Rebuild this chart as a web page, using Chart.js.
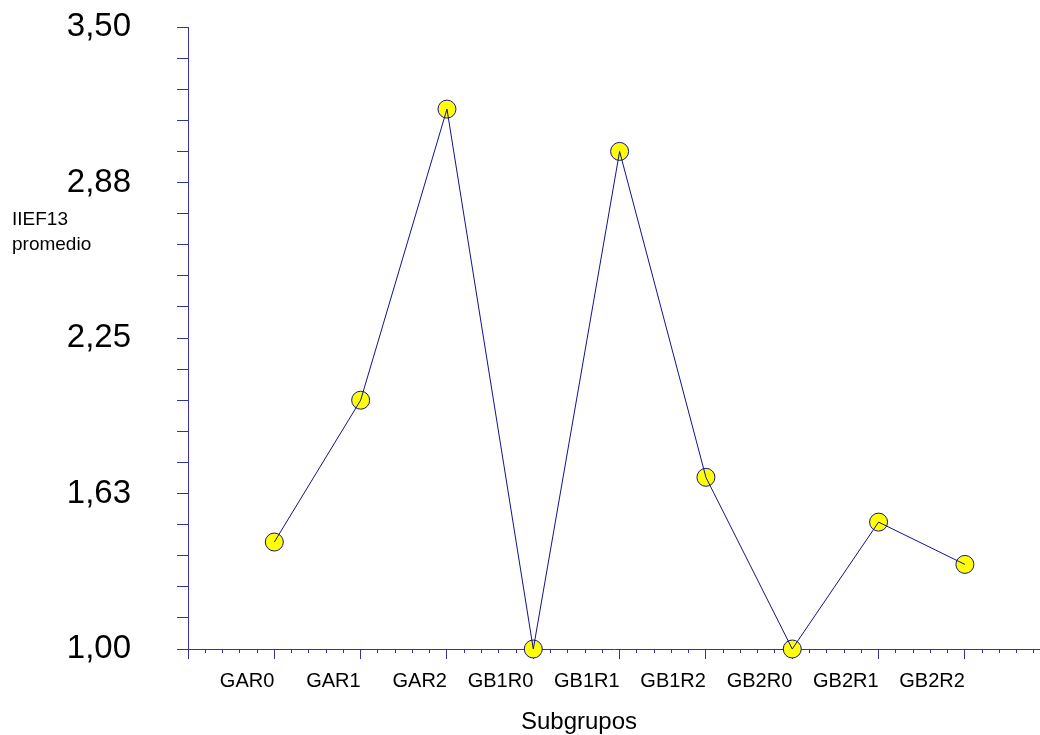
<!DOCTYPE html>
<html>
<head>
<meta charset="utf-8">
<script src="https://cdn.jsdelivr.net/npm/chart.js@4/dist/chart.umd.min.js"></script>
<style>
  html, body { margin: 0; padding: 0; background: #ffffff; }
  canvas { display: block; }
</style>
</head>
<body>
<canvas id="chart" width="1040" height="735"></canvas>
<script>
// Subgroups along the horizontal axis and their mean IIEF13 score
const categories = ['GAR0', 'GAR1', 'GAR2', 'GB1R0', 'GB1R1', 'GB1R2', 'GB2R0', 'GB2R1', 'GB2R2'];
const meanIIEF13 = [1.43, 2.00, 3.17, 1.00, 3.00, 1.69, 1.00, 1.51, 1.34];

// Value axis: labelled ticks and their printed text (decimal comma)
const yLabeledTicks = [1.00, 1.625, 2.25, 2.875, 3.50];
const yTickLabels = ['1,00', '1,63', '2,25', '2,88', '3,50'];
const yMinorStep = 0.125;
const xMinorStep = 0.2;
const xEnd = 9.87;

const yTitleLines = ['IIEF13', 'promedio'];
const xTitle = 'Subgrupos';

const AXIS = '#3434a0';
const LINE = '#12128c';
const FONT = "'Liberation Sans', Arial, sans-serif";

const points = categories.map((c, i) => ({ x: i + 1, y: meanIIEF13[i] }));

function isInt(v) { return Math.abs(v - Math.round(v)) < 1e-6; }

const titles = {
  id: 'axisTitles',
  afterDraw(chart) {
    const ctx = chart.ctx;
    ctx.save();
    ctx.fillStyle = '#000000';
    ctx.textBaseline = 'alphabetic';
    ctx.textAlign = 'left';
    ctx.font = '19px ' + FONT;
    yTitleLines.forEach((t, i) => ctx.fillText(t, 12, 225 + i * 25));
    ctx.font = '24px ' + FONT;
    ctx.textAlign = 'center';
    ctx.fillText(xTitle, 579, 729);
    ctx.restore();
  }
};

new Chart(document.getElementById('chart'), {
  type: 'scatter',
  data: {
    datasets: [
      {
        // connecting line, drawn above the markers
        data: points,
        showLine: true,
        borderColor: LINE,
        borderWidth: 1,
        pointRadius: 0,
        pointHoverRadius: 0,
        clip: false
      },
      {
        data: points,
        showLine: false,
        pointRadius: 9,
        pointHoverRadius: 9,
        pointBackgroundColor: '#ffff00',
        pointBorderColor: LINE,
        pointBorderWidth: 1,
        clip: false
      }
    ]
  },
  options: {
    responsive: false,
    devicePixelRatio: 1,
    animation: false,
    events: [],
    layout: { autoPadding: false, padding: { left: 0, right: 0, top: 27, bottom: 0 } },
    plugins: { legend: { display: false }, tooltip: { enabled: false } },
    scales: {
      x: {
        type: 'linear',
        min: 0,
        max: xEnd,
        afterBuildTicks(scale) {
          const ticks = [];
          for (let v = 0; v <= xEnd + 1e-9; v += xMinorStep) ticks.push({ value: Math.round(v * 1000) / 1000 });
          scale.ticks = ticks;
        },
        afterFit(scale) {
          scale.height = 86;
          scale.paddingLeft = 0;
          scale.paddingRight = 0;
        },
        border: { display: true, color: AXIS, width: 1 },
        grid: {
          drawOnChartArea: false,
          drawTicks: true,
          tickLength: 10,
          tickColor: AXIS,
          tickWidth: 1,
          tickBorderDash: (ctx) => (ctx.tick && isInt(ctx.tick.value)) ? [] : [3, 30]
        },
        ticks: {
          autoSkip: false,
          maxRotation: 0,
          align: 'end',
          padding: 10,
          color: '#000000',
          font: { family: FONT, size: 20 },
          callback: (v) => {
            if (!isInt(v)) return '';
            const i = Math.round(v) - 1;
            return (i >= 0 && i < categories.length) ? categories[i] : '';
          }
        }
      },
      y: {
        type: 'linear',
        min: 1.0,
        max: 3.5,
        afterBuildTicks(scale) {
          const ticks = [];
          for (let v = 1.0; v <= 3.5 + 1e-9; v += yMinorStep) ticks.push({ value: Math.round(v * 1000) / 1000 });
          scale.ticks = ticks;
        },
        afterFit(scale) {
          scale.width = 188;
          scale.paddingTop = 0;
          scale.paddingBottom = 0;
        },
        border: { display: true, color: AXIS, width: 1 },
        grid: {
          drawOnChartArea: false,
          drawTicks: true,
          tickLength: 11,
          tickColor: AXIS,
          tickWidth: 1
        },
        ticks: {
          autoSkip: false,
          padding: 46,
          color: '#000000',
          font: { family: FONT, size: 33 },
          callback: (v) => {
            const k = yLabeledTicks.findIndex(t => Math.abs(t - v) < 1e-6);
            return k >= 0 ? yTickLabels[k] : '';
          }
        }
      }
    }
  },
  plugins: [titles]
});
</script>
</body>
</html>
